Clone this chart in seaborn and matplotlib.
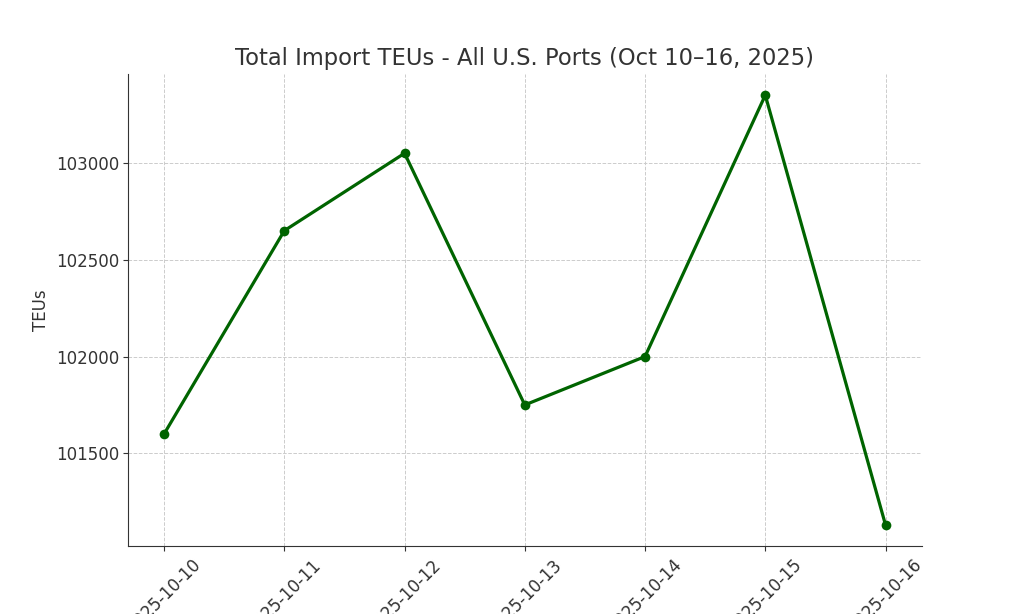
import pandas as pd
import matplotlib.pyplot as plt
import seaborn as sns

dates = ["2025-10-10", "2025-10-11", "2025-10-12", "2025-10-13",
         "2025-10-14", "2025-10-15", "2025-10-16"]
teus = [101600, 102650, 103050, 101750, 102000, 103350, 101130]

df = pd.DataFrame({"date": dates, "teus": teus})

sns.set_style("ticks")
plt.rcParams["font.family"] = ["DejaVu Sans"]
plt.rcParams["text.color"] = "#333333"
plt.rcParams["axes.labelcolor"] = "#333333"
plt.rcParams["xtick.color"] = "#333333"
plt.rcParams["ytick.color"] = "#333333"
plt.rcParams["axes.edgecolor"] = "#333333"

fig, ax = plt.subplots(figsize=(10.24, 6.14), dpi=100)
fig.subplots_adjust(left=0.125, right=0.9, top=0.88, bottom=0.11)

sns.lineplot(data=df, x="date", y="teus", ax=ax, color="darkgreen",
             marker="o", markersize=7, markeredgewidth=0, linewidth=2.3)

ax.set_title("Total Import TEUs - All U.S. Ports (Oct 10\u201316, 2025)", fontsize=16.3)
ax.set_xlabel("")
ax.set_ylabel("TEUs", fontsize=12)
ax.tick_params(axis="both", labelsize=12, length=3.5, pad=3)
plt.setp(ax.get_xticklabels(), rotation=45)
ax.grid(True, linestyle="--", color="#cccccc", linewidth=0.7)
sns.despine(ax=ax)

fig.savefig("out.png", dpi=100)
